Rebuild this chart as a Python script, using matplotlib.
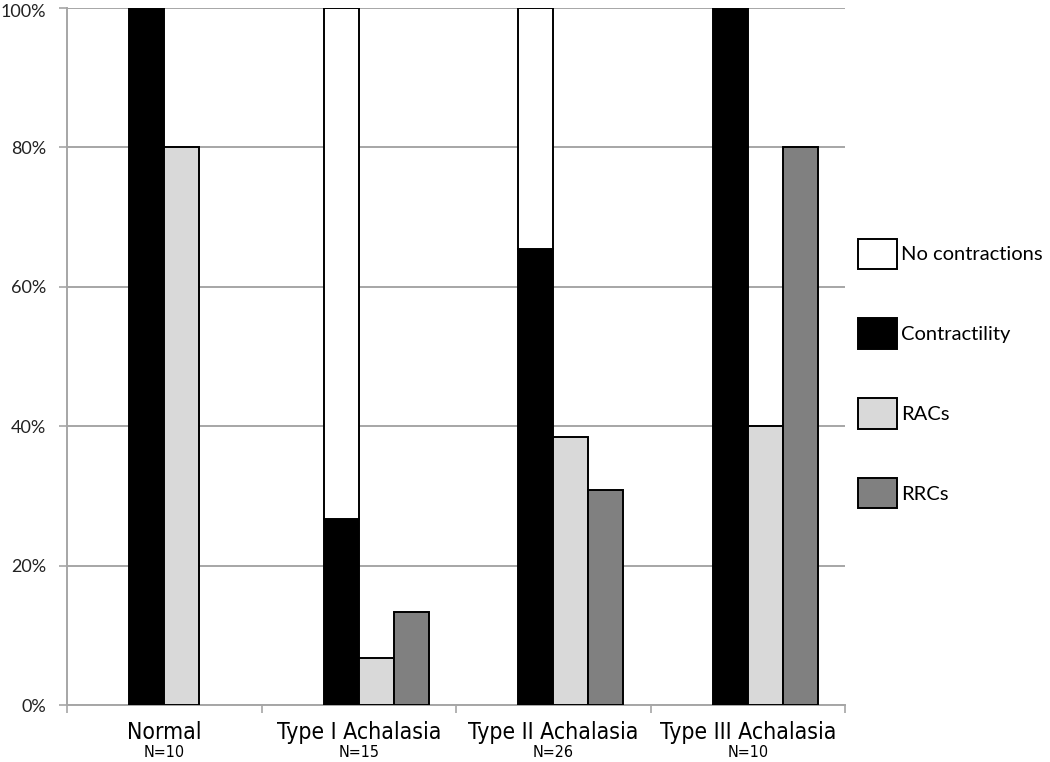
import matplotlib.pyplot as plt
import matplotlib.patches as mpatches
import matplotlib.ticker as mticker
import numpy as np

# data (percent of patients)
categories = ['Normal', 'Type I Achalasia', 'Type II Achalasia', 'Type III Achalasia']
n_labels = ['N=10', 'N=15', 'N=26', 'N=10']
contractility = [100, 26.7, 65.4, 100]
no_contractions = [0, 73.3, 34.6, 0]
racs = [80, 6.7, 38.5, 40]
rrcs = [0, 13.3, 30.8, 80]

fig = plt.figure(figsize=(10.5, 7.62), dpi=100)
ax = fig.add_axes([67 / 1050, 57 / 762, 778 / 1050, 697 / 762])

x = np.arange(len(categories))
w = 0.18
grey = '#a6a6a6'
edge = dict(edgecolor='black', linewidth=1.4, zorder=3)

b1 = ax.bar(x - w, contractility, w, align='edge', color='black', **edge)
b2 = ax.bar(x - w, no_contractions, w, bottom=contractility, align='edge', color='white', **edge)
b3 = ax.bar(x, racs, w, align='edge', color='#d9d9d9', **edge)
b4 = ax.bar(x + w, rrcs, w, align='edge', color='#808080', **edge)
for bars in (b1, b2, b3, b4):
    for r in bars:
        if r.get_height() == 0:
            r.set_visible(False)

ax.set_xlim(-0.5, 3.5)
ax.set_ylim(0, 100)
ax.yaxis.set_major_locator(mticker.MultipleLocator(20))
# the 100% label is drawn separately, a bit lower, so it stays inside the picture
ax.yaxis.set_major_formatter(mticker.FuncFormatter(lambda v, p: '' if v >= 100 else '%d%%' % v))
ax.grid(axis='y', color=grey, linewidth=1.4, zorder=0)
ax.set_axisbelow(True)

for s in ['top', 'right']:
    ax.spines[s].set_visible(False)
for s in ['left', 'bottom']:
    ax.spines[s].set_color(grey)
    ax.spines[s].set_linewidth(1.4)

ax.set_xticks(np.arange(-0.5, 4.0, 1.0))
ax.set_xticklabels([])
ax.tick_params(axis='x', length=6, color=grey, width=1.2)
ax.tick_params(axis='y', length=6, color=grey, width=1.2, pad=9, labelsize=13,
               labelcolor='#222222', labelfontfamily='Lato')
ax.annotate('100%', xy=(0, 100), xycoords=('axes fraction', 'data'), xytext=(-15, -3),
            textcoords='offset points', ha='right', va='center', fontsize=13,
            family='Lato', color='#222222', annotation_clip=False)

tr = ax.get_xaxis_transform()
for i, (c, nl) in enumerate(zip(categories, n_labels)):
    ax.text(i, -0.039, c, transform=tr, ha='center', va='center', fontsize=16.5,
            family='DejaVu Sans', stretch='condensed', clip_on=False)
    ax.text(i, -0.068, nl, transform=tr, ha='center', va='center', fontsize=11.5,
            family='DejaVu Sans', stretch='condensed', clip_on=False)

handles = [
    mpatches.Patch(facecolor='white', edgecolor='black', linewidth=1.4, label='No contractions'),
    mpatches.Patch(facecolor='black', edgecolor='black', linewidth=1.4, label='Contractility'),
    mpatches.Patch(facecolor='#d9d9d9', edgecolor='black', linewidth=1.4, label='RACs'),
    mpatches.Patch(facecolor='#808080', edgecolor='black', linewidth=1.4, label='RRCs'),
]
fig.legend(handles=handles, loc='center left', bbox_to_anchor=(858 / 1050, 1 - 373.5 / 762),
           frameon=False, borderpad=0, borderaxespad=0, handlelength=1.95, handleheight=1.95,
           handletextpad=0.2, labelspacing=2.45, prop={'family': 'Lato', 'size': 14.5})

fig.savefig('out.png', dpi=100)
